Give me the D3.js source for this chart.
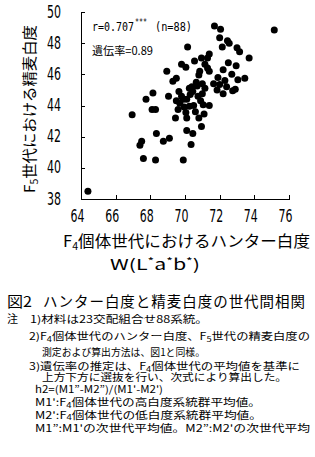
<!DOCTYPE html>
<html><head><meta charset="utf-8">
<script src="https://cdn.jsdelivr.net/npm/d3@7"></script>
<style>
html,body{margin:0;padding:0;background:#fff;}
svg{display:block;}
text{fill:#000;}
</style></head>
<body>
<script>
// ---- data ----
const xTicks = [64, 66, 68, 70, 72, 74, 76];
const yTicks = [38, 40, 42, 44, 46, 48, 50];
// [F4 Hunter whiteness W(L*a*b*), F5 polished-grain whiteness]
const points = [
  [64.4,38.5],[67.6,40.6],[68.3,40.5],[69.9,40.5],[67.4,41.45],[67.5,41.7],[68.75,41.7],[69.1,41.9],
  [68.35,42.2],[70.35,41.5],[70.1,42.4],[70.45,42.2],[70.95,42.65],[66.95,43.4],[68.1,43.75],[68.3,43.75],
  [67.75,44.4],[68.15,44.8],[69.05,44.6],
  [69.45,43.2],[70.1,43.2],[70.8,43.2],[70.6,43.6],[70.05,43.55],[69.6,43.75],[69.7,44.15],[69.9,44.4],
  [69.5,44.3],[69.8,44.6],[70.1,44.4],[70.3,44.7],[70.45,44.9],[70.4,45.2],[70.7,45.25],[70.75,44.6],
  [71.0,44.75],[70.9,44.3],[71.4,44.0],[70.5,44.0],[69.95,43.9],[70.25,43.95],[71.05,44.05],[70.65,45.5],
  [70.25,45.1],
  [69.3,45.55],[69.5,45.75],[68.95,46.2],[69.8,46.65],[70.05,46.45],[70.55,46.85],[70.95,47.05],[71.4,47.3],
  [71.3,47.05],[70.85,46.2],[70.8,45.95],[71.15,46.65],[71.3,46.4],[71.4,46.2],[71.0,45.4],[70.15,47.75],
  [71.7,49.1],[72.05,48.9],[72.0,48.35],[72.45,48.15],[72.55,48.0],[72.15,47.75],[73.0,47.7],[73.15,47.45],
  [73.7,47.05],[72.5,46.75],[72.95,46.55],[72.2,46.3],[72.7,46.0],[71.9,45.8],[73.05,45.65],[73.45,45.75],
  [72.0,45.35],[72.4,45.2],[71.85,45.0],[72.9,45.05],[72.75,44.95],[72.2,44.75],[71.65,45.4],[75.15,48.85],
  [72.3,45.6],[71.1,43.45],[69.65,44.9],[71.15,45.1]
];
const corrMain = "r=0.707";
const corrStars = "***";
const corrN = "(n=88)";
const heritText = "遺伝率=0.89";
const yTitle = ["F", "5", "世代における精麦白度"];
const xTitle = ["F", "4", "個体世代におけるハンター白度"];
const xTitle2 = ["W(L", "*", "a", "*", "b", "*", ")"];
const captionNo = "図2";
const caption = "ハンター白度と精麦白度の世代間相関";
// note lines: segments, [text, isSub]
const notes = [
  {x:30, y:322.5, len:178, segs:[["1)材料は23交配組合せ88系統。",0]]},
  {x:29, y:340, len:281, segs:[["2)F",0],["4",1],["個体世代のハンター白度、F",0],["5",1],["世代の精麦白度の",0]]},
  {x:42, y:355.5, len:163, segs:[["測定および算出方法は、図1と同様。",0]]},
  {x:29, y:370, len:271, segs:[["3)遺伝率の推定は、F",0],["4",1],["個体世代の平均値を基準に",0]]},
  {x:42, y:381, len:245, segs:[["上方下方に選抜を行い、次式により算出した。",0]]},
  {x:35, y:392.5, len:128, segs:[["h2=(M1”-M2”)/(M1'-M2')",0]]},
  {x:35, y:406, len:226, segs:[["M1':F",0],["4",1],["個体世代の高白度系統群平均値。",0]]},
  {x:35, y:418.5, len:227, segs:[["M2':F",0],["4",1],["個体世代の低白度系統群平均値。",0]]},
  {x:35, y:432, len:275, segs:[["M1”:M1'の次世代平均値。M2”:M2'の次世代平均",0]]}
];

// ---- drawing ----
const W = 315, H = 457;
const CJK = "'Noto Sans CJK JP', 'Noto Sans', sans-serif";
const svg = d3.select("body").append("svg").attr("width", W).attr("height", H);
svg.append("rect").attr("width", W).attr("height", H).attr("fill", "#fff");

const x = d3.scaleLinear().domain([64, 76]).range([81, 289]);
const y = d3.scaleLinear().domain([38, 50]).range([199, 12]);

const gx = svg.append("g").attr("transform", `translate(0,${y(38)})`)
  .call(d3.axisBottom(x).tickValues(xTicks).tickSizeInner(-4).tickSizeOuter(0).tickPadding(11));
const gy = svg.append("g").attr("transform", `translate(${x(64)},0)`)
  .call(d3.axisLeft(y).tickValues(yTicks).tickSizeInner(-4).tickSizeOuter(0).tickPadding(20));

[gx, gy].forEach(g => {
  g.selectAll("path.domain, line").attr("stroke", "#000").attr("stroke-width", 1).attr("shape-rendering", "crispEdges");
  g.selectAll("text").attr("fill", "#000")
    .style("font-family", "'DejaVu Sans', sans-serif").style("font-size", "17px")
    .attr("textLength", 14).attr("lengthAdjust", "spacingAndGlyphs");
});
gx.selectAll("text").attr("dx", -4);
gy.selectAll("text").attr("dy", "0.30em");

// points
svg.append("g").selectAll("circle").data(points).join("circle")
  .attr("cx", d => x(d[0])).attr("cy", d => y(d[1])).attr("r", 3.5).attr("fill", "#000");

// annotation: r
const monoStyle = t => t.style("font-family", "'DejaVu Sans Mono', monospace").style("font-size", "12px");
monoStyle(svg.append("text").attr("x", 92).attr("y", 30.5)
  .attr("textLength", 42).attr("lengthAdjust", "spacingAndGlyphs").text(corrMain));
svg.append("text").attr("x", 135).attr("y", 24.5)
  .style("font-family", "'DejaVu Sans Mono', monospace").style("font-size", "8px")
  .attr("textLength", 12).attr("lengthAdjust", "spacingAndGlyphs").text(corrStars);
monoStyle(svg.append("text").attr("x", 155).attr("y", 30.5)
  .attr("textLength", 37).attr("lengthAdjust", "spacingAndGlyphs").text(corrN));

svg.append("text").attr("x", 92).attr("y", 54.5)
  .style("font-family", CJK).style("font-size", "11.5px")
  .attr("textLength", 61).attr("lengthAdjust", "spacingAndGlyphs")
  .text(heritText);

// y title (rotated)
const yt = svg.append("text")
  .attr("transform", "translate(35,193) rotate(-90)")
  .style("font-family", CJK).style("font-size", "15px")
  .attr("textLength", 168).attr("lengthAdjust", "spacingAndGlyphs");
yt.append("tspan").text(yTitle[0]);
yt.append("tspan").attr("dy", 3).style("font-size", "10px").text(yTitle[1]);
yt.append("tspan").attr("dy", -3).text(yTitle[2]);

// x title
const xt = svg.append("text").attr("x", 63).attr("y", 247)
  .style("font-family", CJK).style("font-size", "15.5px")
  .attr("textLength", 247).attr("lengthAdjust", "spacingAndGlyphs");
xt.append("tspan").text(xTitle[0]);
xt.append("tspan").attr("dy", 3).style("font-size", "10px").text(xTitle[1]);
xt.append("tspan").attr("dy", -3).text(xTitle[2]);

const xt2 = svg.append("text").attr("x", 110).attr("y", 270)
  .style("font-family", CJK).style("font-size", "15px")
  .attr("textLength", 90).attr("lengthAdjust", "spacingAndGlyphs");
xTitle2.forEach((s, i) => {
  const sup = s === "*";
  const prevSup = i > 0 && xTitle2[i - 1] === "*";
  xt2.append("tspan").attr("dy", sup ? -5 : (prevSup ? 5 : 0))
    .style("font-size", sup ? "10px" : "15px").text(s);
});

// caption
svg.append("text").attr("x", 7).attr("y", 306.5)
  .style("font-family", CJK).style("font-size", "14.5px")
  .attr("textLength", 25).attr("lengthAdjust", "spacingAndGlyphs").text(captionNo);
svg.append("text").attr("x", 43).attr("y", 306.5)
  .style("font-family", CJK).style("font-size", "14.5px")
  .attr("textLength", 262).attr("lengthAdjust", "spacing").text(caption);

// notes
svg.append("text").attr("x", 7).attr("y", 322.5)
  .style("font-family", CJK).style("font-size", "11px").text("注");
notes.forEach(n => {
  const t = svg.append("text").attr("x", n.x).attr("y", n.y)
    .style("font-family", CJK).style("font-size", "10px")
    .attr("textLength", n.len).attr("lengthAdjust", "spacingAndGlyphs");
  let prevSub = false;
  n.segs.forEach(([s, sub]) => {
    t.append("tspan").attr("dy", sub ? 1.5 : (prevSub ? -1.5 : 0))
      .style("font-size", sub ? "7.5px" : "10px").text(s);
    prevSub = !!sub;
  });
});
</script>
</body></html>
